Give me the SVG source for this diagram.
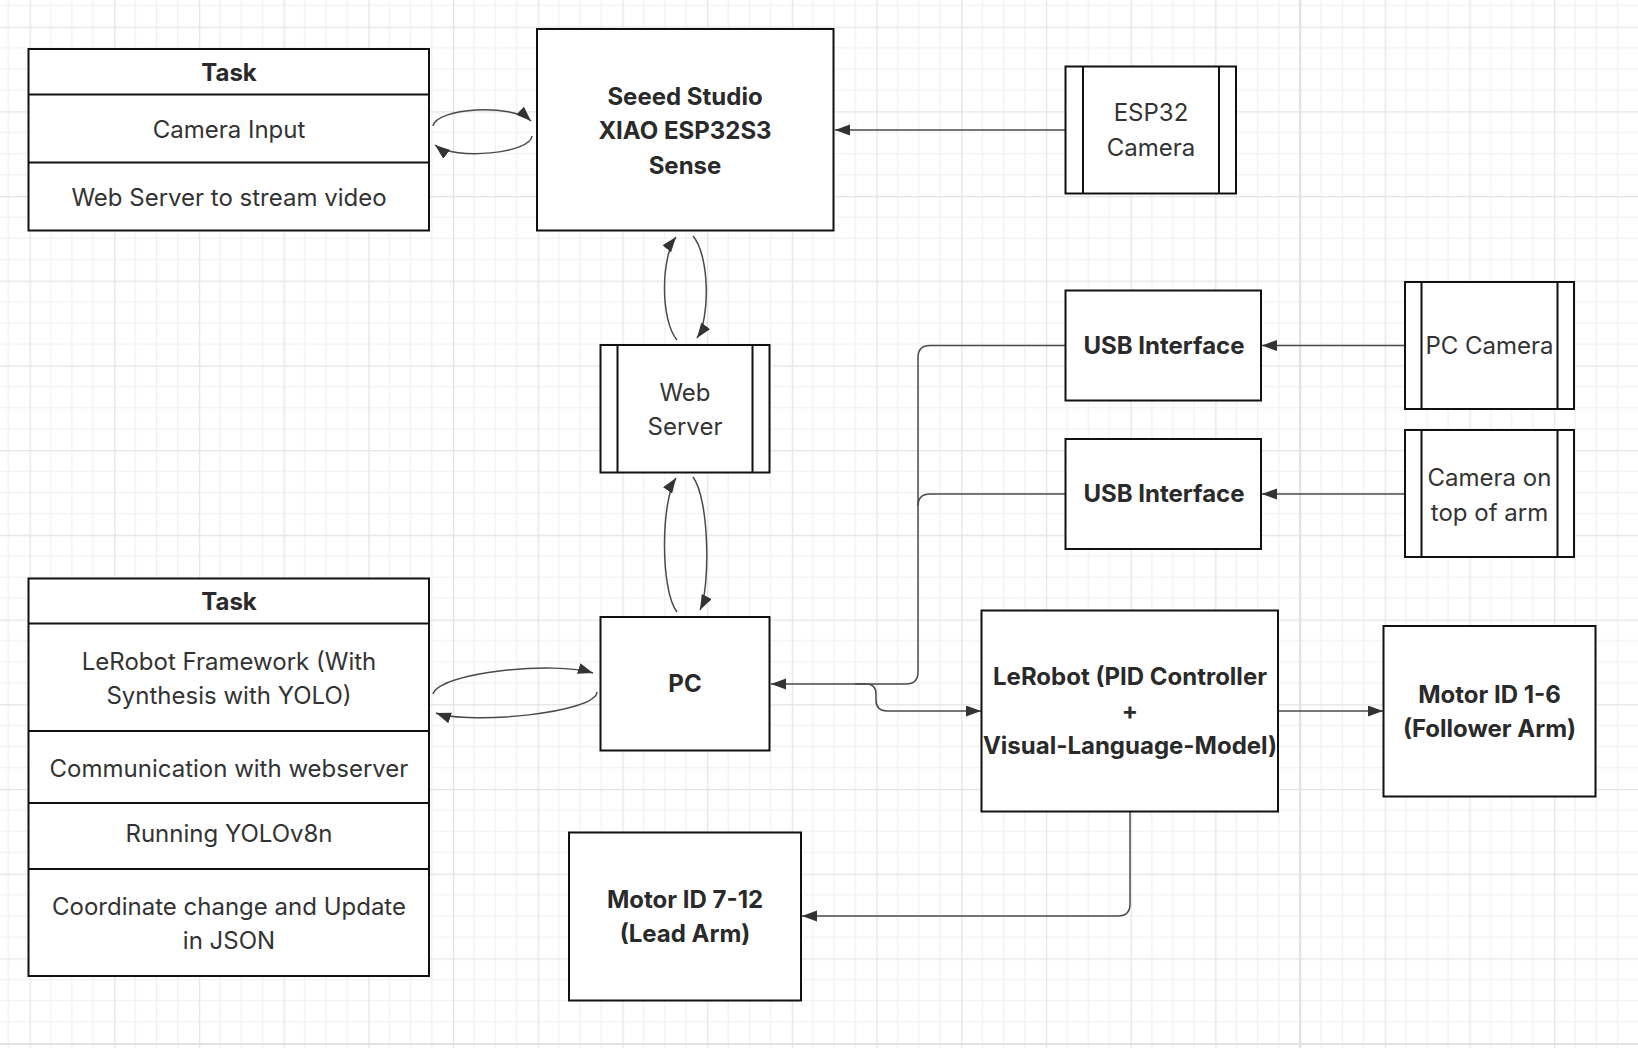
<svg xmlns="http://www.w3.org/2000/svg" width="1638" height="1048" viewBox="0 0 1638 1048">
<style>
.box{fill:#fff;stroke:#111;stroke-width:2}
.in{fill:none;stroke:#111;stroke-width:2}
.t{font-family:Inter,"Noto Sans","Liberation Sans",sans-serif;font-size:24px;fill:#333;text-anchor:middle}
.b{font-weight:700;fill:#2a2a2a}
.c{fill:none;stroke:#4a4a4a;stroke-width:1.5}
</style>
<defs>
<pattern id="grid" patternUnits="userSpaceOnUse" x="29.5" y="26.6" width="84.7" height="84.7">
<path d="M21.175 0V84.7M42.35 0V84.7M63.525 0V84.7M0 21.175H84.7M0 42.35H84.7M0 63.525H84.7" stroke="#f0f0f0" stroke-width="1.2" fill="none"/>
<path d="M0.5 0V84.7M0 0.5H84.7" stroke="#e4e4e4" stroke-width="1.5" fill="none"/>
</pattern>
<marker id="ah" markerUnits="userSpaceOnUse" markerWidth="16" markerHeight="12" refX="15" refY="5.5" orient="auto">
<path d="M0,0 L15,5.5 L0,11 z" fill="#333"/>
</marker>
</defs>
<rect width="1638" height="1048" fill="#fff"/>
<rect width="1638" height="1048" fill="url(#grid)"/>
<path d="M1300 0V1048M0 1044H1638" stroke="#dedede" stroke-width="1.5"/>

<g id="connectors">
<path class="c" marker-end="url(#ah)" d="M1065 130H835"/>
<path class="c" marker-end="url(#ah)" d="M1405 345.5H1262"/>
<path class="c" marker-end="url(#ah)" d="M1405 494H1262"/>
<path class="c" marker-end="url(#ah)" d="M1065 345.5H930Q918 345.5 918 357.5V672Q918 684 906 684H771"/>
<path class="c" d="M1065 494H930Q918 494 918 506"/>
<path class="c" marker-end="url(#ah)" d="M855 684H866Q876 684 876 694V700Q876 711 887 711H981"/>
<path class="c" marker-end="url(#ah)" d="M1278 711H1383"/>
<path class="c" marker-end="url(#ah)" d="M1130 812V904Q1130 916 1118 916H802"/>
<path class="c" marker-end="url(#ah)" d="M433 126C436 108 512 103 531 121"/>
<path class="c" marker-end="url(#ah)" d="M532 136C531 153 455 161 435 145"/>
<path class="c" marker-end="url(#ah)" d="M677 340C660 320 661 256 676 237"/>
<path class="c" marker-end="url(#ah)" d="M693 236C710 256 710 320 697 338"/>
<path class="c" marker-end="url(#ah)" d="M677 612C660 590 661 500 676 478"/>
<path class="c" marker-end="url(#ah)" d="M693 477C710 500 710 590 700 610"/>
<path class="c" marker-end="url(#ah)" d="M433 694C440 672 555 661 593 673"/>
<path class="c" marker-end="url(#ah)" d="M597 692C596 713 470 725 436 713"/>
</g>

<g id="task1">
<rect class="box" x="28.5" y="49" width="400.5" height="181.5"/>
<path class="in" d="M28.5 94.5H429M28.5 162.5H429"/>
<text class="t b" x="229" y="80.5">Task</text>
<text class="t" x="229" y="137.5">Camera Input</text>
<text class="t" x="229" y="205.5">Web Server to stream video</text>
</g>

<g id="seeed">
<rect class="box" x="537" y="29" width="296.5" height="201.5"/>
<text class="t b" x="685" y="104.5">Seeed Studio</text>
<text class="t b" x="685" y="139">XIAO ESP32S3</text>
<text class="t b" x="685" y="173.5">Sense</text>
</g>

<g id="esp32cam">
<rect class="box" x="1065.5" y="66.5" width="170.5" height="127"/>
<path class="in" d="M1083 66.5V193.5M1219 66.5V193.5"/>
<text class="t" x="1151" y="121">ESP32</text>
<text class="t" x="1151" y="156">Camera</text>
</g>

<g id="webserver">
<rect class="box" x="600.5" y="345" width="169" height="127.5"/>
<path class="in" d="M617.5 345V472.5M752.5 345V472.5"/>
<text class="t" x="685" y="400.5">Web</text>
<text class="t" x="685" y="434.5">Server</text>
</g>

<g id="usb1">
<rect class="box" x="1065.5" y="290.5" width="195.5" height="110"/>
<text class="t b" x="1164" y="354">USB Interface</text>
</g>

<g id="usb2">
<rect class="box" x="1065.5" y="439" width="195.5" height="110"/>
<text class="t b" x="1164" y="502">USB Interface</text>
</g>

<g id="pccamera">
<rect class="box" x="1405" y="282" width="169" height="127"/>
<path class="in" d="M1421.5 282V409M1557.5 282V409"/>
<text class="t" x="1489.5" y="354">PC Camera</text>
</g>

<g id="armcamera">
<rect class="box" x="1405" y="430" width="169" height="127"/>
<path class="in" d="M1421.5 430V557M1557.5 430V557"/>
<text class="t" x="1489.5" y="486">Camera on</text>
<text class="t" x="1489.5" y="521">top of arm</text>
</g>

<g id="task2">
<rect class="box" x="28.5" y="578.5" width="400.5" height="397.5"/>
<path class="in" d="M28.5 623.5H429M28.5 731H429M28.5 803H429M28.5 869H429"/>
<text class="t b" x="229" y="609.5">Task</text>
<text class="t" x="229" y="669.5">LeRobot Framework (With</text>
<text class="t" x="229" y="704">Synthesis with YOLO)</text>
<text class="t" x="229" y="776.5">Communication with webserver</text>
<text class="t" x="229" y="842">Running YOLOv8n</text>
<text class="t" x="229" y="914.5">Coordinate change and Update</text>
<text class="t" x="229" y="948.5">in JSON</text>
</g>

<g id="pc">
<rect class="box" x="600.5" y="617" width="169" height="133.5"/>
<text class="t b" x="685" y="692">PC</text>
</g>

<g id="lerobot">
<rect class="box" x="981.5" y="610.5" width="296.5" height="201"/>
<text class="t b" x="1130" y="685">LeRobot (PID Controller</text>
<text class="t b" x="1130" y="719">+</text>
<text class="t b" x="1130" y="754">Visual-Language-Model)</text>
</g>

<g id="motor16">
<rect class="box" x="1383.5" y="626" width="212" height="170.5"/>
<text class="t b" x="1489.5" y="703">Motor ID 1-6</text>
<text class="t b" x="1489.5" y="737">(Follower Arm)</text>
</g>

<g id="motor712">
<rect class="box" x="569" y="832.5" width="232" height="168"/>
<text class="t b" x="685" y="908">Motor ID 7-12</text>
<text class="t b" x="685" y="942">(Lead Arm)</text>
</g>
</svg>
